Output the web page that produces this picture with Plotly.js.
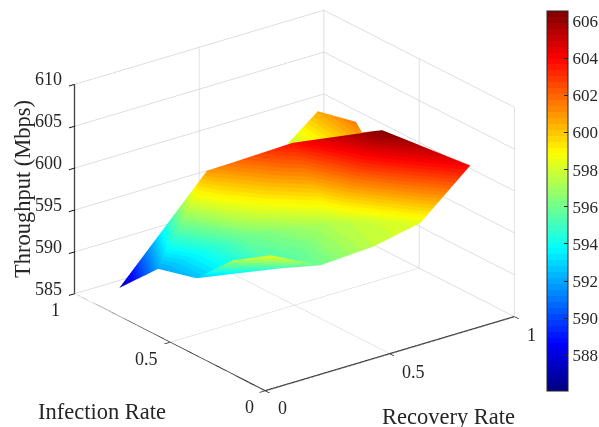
<!DOCTYPE html>
<html><head><meta charset="utf-8">
<script src="https://cdn.plot.ly/plotly-3.0.1.min.js"></script>
<style>html,body{margin:0;padding:0;background:#fff}#c{width:599px;height:427px}</style>
</head><body><div id="c"></div>
<script>
// vertices:     A     B     C     D     E     F     G     H     I     J     K     L     P1    P2    Q     M     N     S     T     R
const recovery=[.060, .044, .073, .066, .130, .307, .473, .674, .848, .697, .524, .287, .258, .490, .227, .878, .880, .864, .743, .665];
const infection=[.843,.619, .457, .258, .140, .110, .048, .067, .033, .297, .541, .682, .446, .288, .224, .872, .675, .622, .583, .888];
const throughput=[587,592,  592.5,597,  598.4,596,  597.5,598.3,604,  606.5,603.7,600.8,595.9,597.3,595,  600.5,601.5,601,  598,  595];
const triI=[0, 1, 1, 11,12,10,9,9,13,13,13,12,2, 2, 3, 4, 15,15,15,18,18,18,19,19];
const triJ=[1, 12,2, 12,13,13,13,7,6, 5, 14,14,14,3, 4, 5, 16,17,18,17,9, 10,18,11];
const triK=[11,11,12,10,10,9, 7,8,7, 6, 5, 13,12,14,14,14,17,18,19,9, 10,11,11,0];
const xyTicks=[0,0.5,1];
const zTicks=[585,590,595,600,605,610];
const barTicks=[588,590,592,594,596,598,600,602,604,606];
const xName='Recovery Rate', yName='Infection Rate', zName='Throughput (Mbps)';

// MATLAB jet, 64 flat levels
function jet(t){const c=v=>Math.round(255*Math.max(0,Math.min(1,v)));
  return 'rgb('+c(1.5-Math.abs(4*t-3))+','+c(1.5-Math.abs(4*t-2))+','+c(1.5-Math.abs(4*t-1))+')';}
const scale=[];for(let n=0;n<64;n++){const col=jet((n+.5)/64);scale.push([n/64,col]);scale.push([(n+1)/64,col]);}

const ink='#262626',grid='#d4d4d4',font='"Liberation Serif","Times New Roman",serif';
const tickFont={family:font,size:18,color:ink};
const titleFont={family:font,size:22.5,color:ink};
function ax(range,vals){return {range:range,autorange:false,tickmode:'array',tickvals:vals,showticklabels:false,
  title:{text:''},showgrid:true,gridcolor:grid,gridwidth:1.5,zeroline:false,showline:false,
  ticks:'outside',ticklen:7,tickwidth:2,tickcolor:'#111',showbackground:false,showspikes:false};}
const xShift=[[16.7,-17.6],[23,-18.5],[17,-18]], yShift=[[-16,-16.3],[-23.5,-16.3],[-19,-16.7]];
const xRange=[0,1],yRange=[0,1],zRange=[585,610];
const labels=[];
xyTicks.forEach((v,n)=>labels.push({x:v,y:0,z:585,text:String(v),showarrow:false,xshift:xShift[n][0],yshift:xShift[n][1],font:tickFont}));
xyTicks.forEach((v,n)=>labels.push({x:0,y:v,z:585,text:String(v),showarrow:false,xshift:yShift[n][0],yshift:yShift[n][1],font:tickFont}));
zTicks.forEach(v=>labels.push({x:0,y:1,z:v,text:String(v),showarrow:false,xshift:-26,yshift:5,font:tickFont}));
const el=22.9*Math.PI/180,az=52.6*Math.PI/180,d=1.265,s=1.565;
Plotly.newPlot('c',[{type:'mesh3d',x:recovery,y:infection,z:throughput,i:triI,j:triJ,k:triK,intensity:throughput,
  colorscale:scale,cmin:586.08,cmax:606.54,flatshading:true,hoverinfo:'skip',
  lighting:{ambient:1,diffuse:0,specular:0,roughness:1,fresnel:0},
  colorbar:{thickness:21,thicknessmode:'pixels',len:380,lenmode:'pixels',x:547/599,xanchor:'left',y:(427-391)/427,yanchor:'bottom',
    xpad:0,ypad:0,outlinecolor:ink,outlinewidth:1,ticks:'inside',ticklen:4,tickcolor:ink,tickmode:'array',tickvals:barTicks,ticktext:barTicks.map(String),
    tickfont:{family:font,size:17,color:ink}}},
  {type:'scatter3d',mode:'lines',x:[xRange[1],xRange[0],xRange[0],xRange[0]],y:[yRange[0],yRange[0],yRange[1],yRange[1]],z:[zRange[0],zRange[0],zRange[0],zRange[1]],
   line:{color:'#111',width:2.5},hoverinfo:'skip',showlegend:false}],
 {width:599,height:427,margin:{l:0,r:0,t:0,b:0,autoexpand:false},paper_bgcolor:'#fff',showlegend:false,
  scene:{domain:{x:[0,589.4/599],y:[26/427,1]},aspectmode:'manual',aspectratio:{x:s,y:s,z:s*.7245},
   camera:{projection:{type:'orthographic'},up:{x:0,y:0,z:1},center:{x:0,y:0,z:0},
     eye:{x:-d*Math.cos(el)*Math.cos(az),y:-d*Math.cos(el)*Math.sin(az),z:d*Math.sin(el)}},
   xaxis:ax(xRange,xyTicks),yaxis:ax(yRange,xyTicks),zaxis:ax(zRange,zTicks),annotations:labels},
  annotations:[
   {text:yName,xref:'paper',yref:'paper',x:101.5/599,y:1-411/427,xanchor:'center',yanchor:'middle',showarrow:false,font:titleFont},
   {text:xName,xref:'paper',yref:'paper',x:448/599,y:1-416/427,xanchor:'center',yanchor:'middle',showarrow:false,font:titleFont},
   {text:zName,xref:'paper',yref:'paper',x:22/599,y:1-189/427,xanchor:'center',yanchor:'middle',textangle:-90,showarrow:false,font:titleFont}]},
 {displayModeBar:false});
</script></body></html>
